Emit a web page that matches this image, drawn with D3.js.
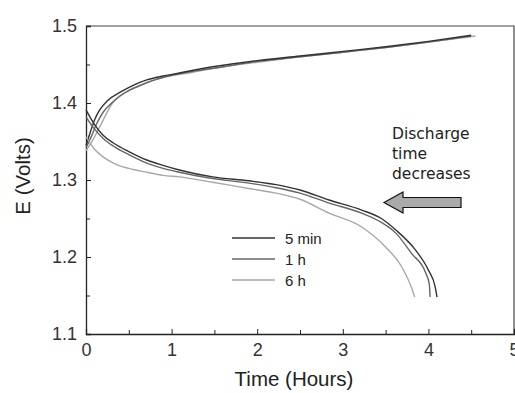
<!DOCTYPE html>
<html>
<head>
<meta charset="utf-8">
<script src="https://cdn.jsdelivr.net/npm/d3@7"></script>
<style>
  body { margin: 0; background: #fff; }
  svg { display: block; }
</style>
</head>
<body>
<figure id="chart" style="margin:0"></figure>
<script>
// charge (rising) and discharge (falling) curves, [hours, volts]
const charge5min = [[0,1.345],[0.05,1.362],[0.1,1.378],[0.16,1.391],[0.25,1.403],[0.4,1.414],[0.55,1.423],[0.71,1.430],[0.9,1.435],[1.09,1.439],[1.48,1.447],[2.0,1.455],[2.5,1.461],[3.0,1.467],[3.5,1.473],[4.0,1.480],[4.5,1.488]];
const charge1h = [[0,1.342],[0.06,1.356],[0.12,1.372],[0.2,1.388],[0.3,1.400],[0.45,1.413],[0.6,1.421],[0.8,1.430],[1.0,1.436],[1.3,1.442],[1.6,1.447],[2.0,1.454],[2.5,1.460],[3.0,1.466],[3.5,1.472],[4.0,1.479],[4.5,1.487]];
const charge6h = [[0,1.338],[0.08,1.352],[0.16,1.369],[0.31,1.400],[0.51,1.417],[0.7,1.426],[0.9,1.433],[1.2,1.439],[1.5,1.445],[2.0,1.453],[2.5,1.460],[3.0,1.466],[3.5,1.472],[4.0,1.479],[4.55,1.487]];

const discharge5min = [[0,1.391],[0.1,1.372],[0.2,1.358],[0.32,1.348],[0.5,1.337],[0.71,1.326],[0.9,1.319],[1.09,1.313],[1.48,1.304],[1.9,1.299],[2.22,1.294],[2.5,1.287],[2.84,1.274],[3.22,1.261],[3.45,1.250],[3.62,1.235],[3.85,1.209],[4.0,1.183],[4.08,1.161],[4.1,1.148]];
const discharge1h = [[0,1.382],[0.1,1.366],[0.2,1.354],[0.32,1.344],[0.5,1.333],[0.71,1.322],[0.9,1.315],[1.09,1.310],[1.48,1.302],[1.9,1.296],[2.22,1.290],[2.5,1.283],[2.84,1.270],[3.22,1.257],[3.45,1.245],[3.62,1.231],[3.80,1.205],[3.97,1.179],[4.01,1.165],[4.02,1.148]];
const discharge6h = [[0,1.356],[0.1,1.340],[0.2,1.330],[0.32,1.322],[0.5,1.315],[0.71,1.310],[0.9,1.306],[1.09,1.304],[1.48,1.297],[1.9,1.289],[2.22,1.283],[2.5,1.275],[2.84,1.257],[3.22,1.239],[3.5,1.213],[3.69,1.187],[3.80,1.161],[3.84,1.148]];

const seriesNames = ['5 min', '1 h', '6 h'];
const seriesColors = ['#333333', '#666666', '#a8a8a8'];
const xTicks = [0, 1, 2, 3, 4, 5];
const yTicks = [1.1, 1.2, 1.3, 1.4, 1.5];
const noteLines = ['Discharge', 'time', 'decreases'];

const W = 515, H = 393;
const margin = {top: 26, right: 1, bottom: 59, left: 86};
const width = W - margin.left - margin.right;
const height = H - margin.top - margin.bottom;
const sans = '"Liberation Sans", Arial, sans-serif';

const svg = d3.select('#chart').append('svg')
  .attr('width', W).attr('height', H)
  .style('font-family', sans);

const g = svg.append('g').attr('transform', `translate(${margin.left},${margin.top})`);

const x = d3.scaleLinear().domain([0, 5]).range([0, width]);
const y = d3.scaleLinear().domain([1.1, 1.5]).range([height, 0]);

// frame (top and right)
g.append('path')
  .attr('d', `M0,0H${width}V${height}`)
  .attr('fill', 'none').attr('stroke', '#444').attr('stroke-width', 1.2);

// axes, ticks point inward, minor ticks at halves
const xAxis = g.append('g').attr('transform', `translate(0,${height})`)
  .call(d3.axisBottom(x).tickValues(xTicks).tickSize(-5).tickPadding(9).tickFormat(d3.format('d')));
g.append('g').attr('transform', `translate(0,${height})`)
  .call(d3.axisBottom(x).tickValues(d3.range(0.5, 5, 1)).tickSize(-4).tickFormat(''))
  .select('.domain').remove();

const yAxis = g.append('g')
  .call(d3.axisLeft(y).tickValues(yTicks).tickSize(-5).tickPadding(9).tickFormat(d3.format('.1f')));
g.append('g')
  .call(d3.axisLeft(y).tickValues([1.15, 1.25, 1.35, 1.45]).tickSize(-4).tickFormat(''))
  .select('.domain').remove();

g.selectAll('.domain').attr('stroke', '#222').attr('stroke-width', 1.3);
g.selectAll('.tick line').attr('stroke', '#222');
g.selectAll('.tick text').attr('font-size', 18).attr('fill', '#333').attr('font-family', sans);

// axis titles
svg.append('text')
  .attr('x', margin.left + width / 2 - 6).attr('y', 386)
  .attr('text-anchor', 'middle').attr('font-size', 20.5).attr('fill', '#222')
  .text('Time (Hours)');
svg.append('text')
  .attr('transform', `translate(30,${margin.top + height / 2 - 4}) rotate(-90)`)
  .attr('text-anchor', 'middle').attr('font-size', 20.5).attr('fill', '#222')
  .text('E (Volts)');

const line = d3.line()
  .x(d => x(d[0]))
  .y(d => y(d[1]))
  .curve(d3.curveMonotoneX);

const curves = [
  {data: charge6h, c: 2}, {data: charge1h, c: 1}, {data: charge5min, c: 0},
  {data: discharge6h, c: 2}, {data: discharge1h, c: 1}, {data: discharge5min, c: 0}
];
g.selectAll('path.curve').data(curves).enter().append('path')
  .attr('class', 'curve')
  .attr('fill', 'none')
  .attr('stroke', d => seriesColors[d.c])
  .attr('stroke-width', 1.4)
  .attr('d', d => line(d.data));

// legend
const legend = svg.append('g').attr('transform', 'translate(232,238)');
seriesNames.forEach((name, i) => {
  const row = legend.append('g').attr('transform', `translate(0,${i * 21})`);
  row.append('line').attr('x1', 0).attr('x2', 43).attr('y1', 0).attr('y2', 0)
    .attr('stroke', seriesColors[i]).attr('stroke-width', 1.4);
  row.append('text').attr('x', 53).attr('y', 5.5).attr('font-size', 15).attr('fill', '#222').text(name);
});

// annotation
const note = svg.append('g').attr('font-family', '"DejaVu Sans", Verdana, sans-serif')
  .attr('font-size', 15.5).attr('fill', '#222');
noteLines.forEach((t, i) => {
  note.append('text').attr('x', 392).attr('y', 139 + i * 20).text(t);
});
svg.append('path')
  .attr('d', 'M384,202.5L403,192V197.5H461V207.5H403V213Z')
  .attr('fill', '#aaaaaa').attr('stroke', '#111').attr('stroke-width', 1.2);
</script>
</body>
</html>
